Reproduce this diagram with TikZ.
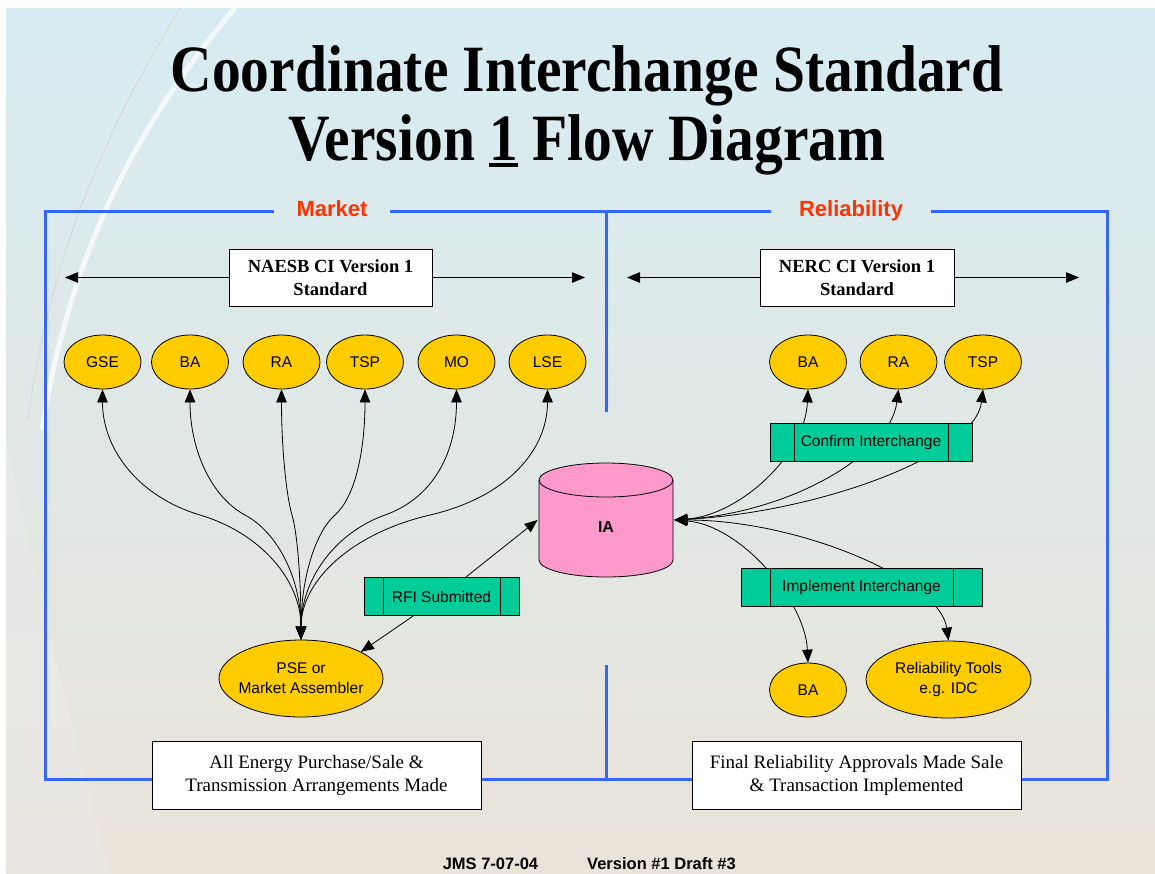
\documentclass[tikz,border=0pt]{standalone}
\usepackage{fontspec}
\setmainfont{Liberation Serif}
\setsansfont{Liberation Sans}
\usetikzlibrary{shapes.geometric,arrows.meta,calc}

\definecolor{framebl}{RGB}{51,102,255}
\definecolor{grpred}{RGB}{255,51,0}
\definecolor{ovalyel}{RGB}{255,204,0}
\definecolor{procgrn}{RGB}{0,204,153}
\definecolor{iapink}{RGB}{255,153,204}
\definecolor{bgtop}{RGB}{214,236,242}
\definecolor{bgmid}{RGB}{238,245,243}
\definecolor{bgbot}{RGB}{234,227,217}

\tikzset{
  oval/.style={ellipse, draw, fill=ovalyel, minimum width=77, minimum height=54,
    inner sep=0pt, align=center, font=\sffamily\fontsize{15.5}{20}\selectfont},
  procbox/.style={draw, fill=procgrn, minimum height=38,
    font=\sffamily\fontsize{15.5}{20}\selectfont,
    path picture={
      \draw ([xshift=#1]path picture bounding box.north west) -- ([xshift=#1]path picture bounding box.south west);
      \draw ([xshift=-#1]path picture bounding box.north east) -- ([xshift=-#1]path picture bounding box.south east);}},
  store/.style={minimum width=136, minimum height=116, inner sep=0pt,
    path picture={
      \coordinate (c) at (path picture bounding box.center);
      \filldraw[fill=iapink] ([shift={(-67pt,40pt)}]c) -- ([shift={(-67pt,-40pt)}]c)
        arc[start angle=180, end angle=360, x radius=67pt, y radius=17pt]
        -- ([shift={(67pt,40pt)}]c)
        arc[start angle=0, end angle=180, x radius=67pt, y radius=17pt] -- cycle;
      \draw ([shift={(-67pt,40pt)}]c) arc[start angle=180, end angle=360, x radius=67pt, y radius=17pt];}},
  stdbox/.style={draw, fill=white, align=center},
  grouplbl/.style={font=\sffamily\bfseries\fontsize{22}{26}\selectfont, text=grpred,
    inner xsep=#1, text height=16pt, text depth=5pt},
  grouplbl/.default=22pt,
  frame/.style={framebl, line width=3pt},
  link/.style={>={Triangle[length=13pt,width=10.5pt]}},
}

\begin{document}
\begin{tikzpicture}[x=1pt, y=-1pt, line width=0.8pt]
\useasboundingbox (0,0) rectangle (1155,873);

% background
\fill[white] (0,0) rectangle (1155,873);
\shade[top color=bgtop, middle color=bgmid, bottom color=bgbot] (6,8) rectangle (1155,873);
\fill[black!8, opacity=0.5] (6,440) .. controls (40,600) and (80,760) .. (110,873) -- (6,873) -- cycle;
\draw[white, line width=5pt, opacity=0.7] (235,8) .. controls (140,120) and (70,250) .. (42,430);
\draw[black!15, line width=1.2pt] (180,8) .. controls (100,140) and (50,260) .. (28,420);

% title
\node[anchor=base, font=\bfseries\fontsize{57.5}{60}\selectfont] (title1) at (587,91)
  {\scalebox{1}[1.15]{Coordinate Interchange Standard}};
\node[anchor=base, font=\bfseries\fontsize{57.5}{60}\selectfont] (title2) at (587,160)
  {\scalebox{1}[1.15]{Version {\rlap{\rule[-6pt]{0.5em}{3.5pt}}1} Flow Diagram}};

% frame
\node[grouplbl] (market) at (332,211) {Market};
\node[grouplbl=28pt] (reliab) at (851,211) {Reliability};
\draw[frame] (market.west) -- (45,211) -- (45,779) -- (1107,779) -- (1107,211) -- (reliab.east);
\draw[frame] (market.east) -- (reliab.west);
\draw[frame] (606,211) -- (606,412);
\draw[frame] (606,665) -- (606,779);

% standards
\node[stdbox, minimum width=203, minimum height=57, font=\bfseries\fontsize{18.5}{23}\selectfont]
  (naesb) at (330.5,277.5) {NAESB CI Version 1\\Standard};
\node[stdbox, minimum width=194, minimum height=57, font=\bfseries\fontsize{18.5}{23}\selectfont]
  (nerc) at (857,277.5) {NERC CI Version 1\\Standard};
\coordinate (naesbl) at (65,277.5);
\coordinate (naesbr) at (585,277.5);
\coordinate (nercl) at (627,277.5);
\coordinate (nercr) at (1079,277.5);
\draw[link, ->] (naesb.west) -- (naesbl);
\draw[link, ->] (naesb.east) -- (naesbr);
\draw[link, ->] (nerc.west) -- (nercl);
\draw[link, ->] (nerc.east) -- (nercr);

% market side
\foreach \n/\x/\t in {gse/102.5/GSE, mba/190/BA, mra/281.5/RA, mtsp/365/TSP, mmo/456.5/MO, mlse/547.5/LSE}
  \node[oval] (\n) at (\x,362) {\t};
\node[oval, minimum width=164, minimum height=77, inner xsep=-14pt, inner ysep=-4pt]
  (pse) at (301,678.5) {PSE or\\Market Assembler};

\foreach \n/\tx/\wx in {gse/102.5/200, mba/190/245, mra/281.5/292, mtsp/365/335, mmo/456.5/385, mlse/547.5/430}
  \draw[link, <->] (pse.north) .. controls (301,580) and ($(\wx,515)-0.6*(\wx-301,-30)$) .. (\wx,515)
    .. controls ($(\wx,515)+0.6*(\wx-301,-30)$) and (\tx,450) .. (\n.south);

% IA
\node[store, font=\sffamily\bfseries\fontsize{16}{20}\selectfont] (ia) at (606,520)
  {\raisebox{-12.7pt}[0pt][0pt]{IA}};

\node[procbox=19pt, minimum width=155] (rfi) at (441.5,596.5) {RFI Submitted};
\draw[link, ->] (rfi) -- (ia.west);
\draw[link, ->] (rfi) -- (pse.24);

% reliability side
\node[oval] (rba) at (808,362) {BA};
\node[oval] (rra) at (898.5,362) {RA};
\node[oval] (rtsp) at (983,362) {TSP};
\node[oval] (lba) at (808,690) {BA};
\node[oval, minimum width=165, minimum height=77] (tools) at (948.5,679.5) {Reliability Tools\\e.g. IDC};

\draw[link, <->] (ia.east) .. controls (740,515) and (805,455) .. (rba.south);
\draw[link, <->] (ia.east) .. controls (790,512) and (890,455) .. (rra.south);
\draw[link, <->] (ia.east) .. controls (820,512) and (975,455) .. (rtsp.south);
\draw[link, <->] (ia.east) .. controls (740,525) and (805,600) .. (lba.north);
\draw[link, <->] (ia.east) .. controls (800,520) and (940,580) .. (tools.north);

\node[procbox=24pt, minimum width=202] (confirm) at (871,442.5) {Confirm Interchange};
\node[procbox=29pt, minimum width=241] (implement) at (861.5,587.5) {Implement Interchange};

% outcomes
\node[stdbox, minimum width=329, minimum height=68, font=\fontsize{19}{23}\selectfont]
  (mktdone) at (316.5,775) {All Energy Purchase/Sale \&\\Transmission Arrangements Made};
\node[stdbox, minimum width=329, minimum height=68, font=\fontsize{19}{23}\selectfont]
  (reldone) at (856.5,775) {Final Reliability Approvals Made Sale\\\& Transaction Implemented};

% footer
\node[font=\sffamily\bfseries\fontsize{16.5}{20}\selectfont] (jms) at (490.5,864) {JMS 7-07-04};
\node[font=\sffamily\bfseries\fontsize{16.5}{20}\selectfont] (draft) at (661.5,864) {Version \#1 Draft \#3};
\end{tikzpicture}
\end{document}
